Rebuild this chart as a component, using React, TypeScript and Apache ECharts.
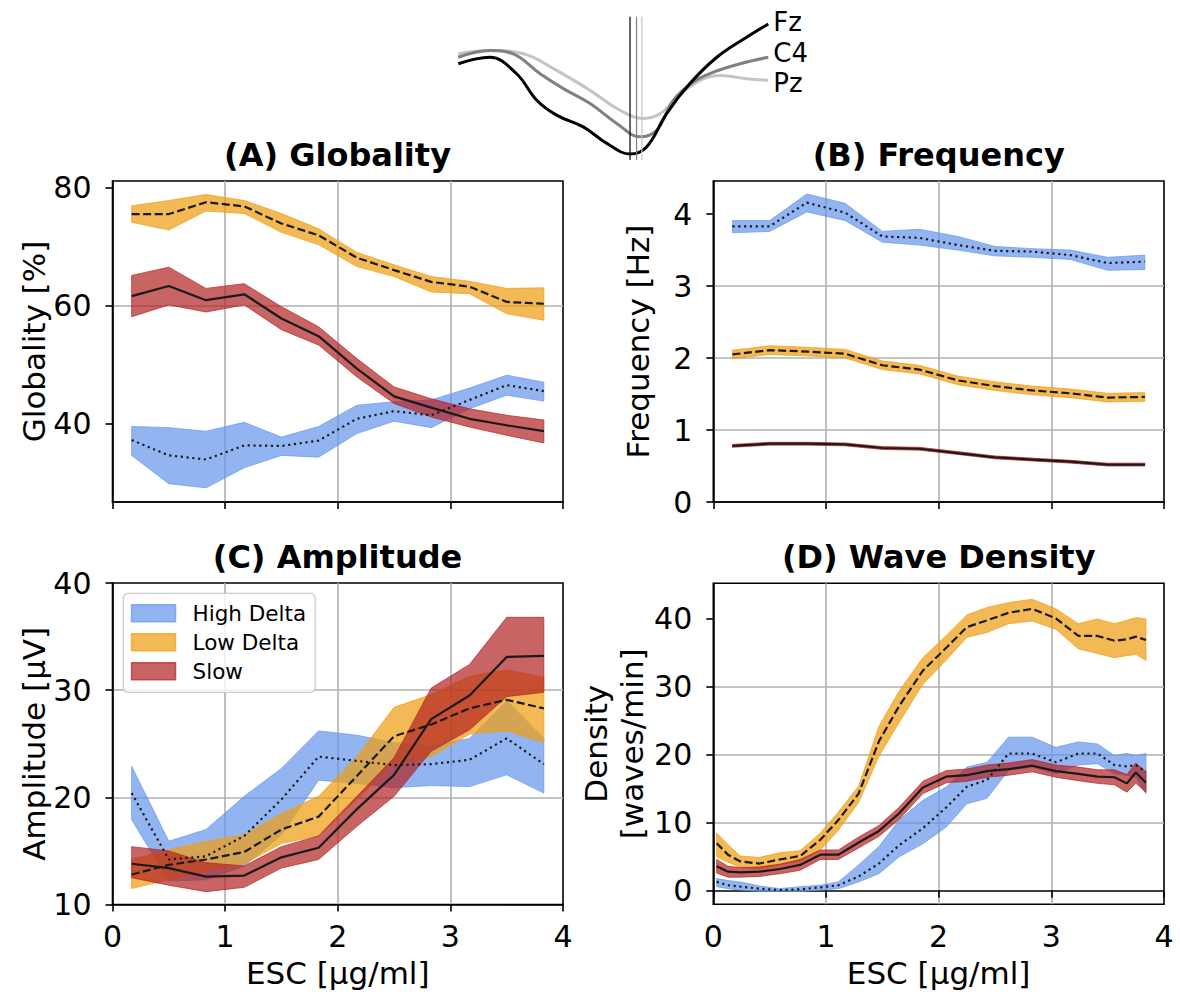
import React, { useEffect, useRef } from "react";
import * as echarts from "echarts";

// ---------- data ----------
const X_BINS = [0.17, 0.5, 0.83, 1.17, 1.5, 1.83, 2.17, 2.5, 2.83, 3.17, 3.5, 3.83];
const X_DENS = [0.03, 0.13, 0.24, 0.41, 0.59, 0.77, 0.95, 1.11, 1.29, 1.47, 1.65, 1.86, 2.07, 2.25, 2.43, 2.62, 2.83, 3.04, 3.24, 3.41, 3.56, 3.67, 3.75, 3.84];

// (A) Globality [%]
const glob_hd_mean = [37.2, 34.6, 33.9, 36.3, 36.2, 37.1, 40.8, 42.1, 41.4, 44.0, 46.5, 45.5];
const glob_hd_lo = [34.6, 29.8, 29.1, 32.5, 34.6, 34.3, 38.3, 40.4, 39.3, 42.5, 44.8, 43.8];
const glob_hd_hi = [39.5, 39.3, 38.7, 40.2, 37.7, 39.5, 43.1, 43.7, 44.0, 46.0, 48.2, 47.0];
const glob_ld_mean = [75.5, 75.5, 77.5, 76.8, 73.9, 71.9, 68.1, 66.0, 64.0, 63.2, 60.6, 60.3];
const glob_ld_lo = [74.1, 72.8, 76.0, 75.6, 72.4, 70.3, 66.6, 64.9, 62.3, 62.0, 58.6, 57.5];
const glob_ld_hi = [76.9, 77.8, 78.8, 77.8, 75.6, 73.0, 69.0, 66.9, 64.9, 64.1, 62.9, 63.0];
const glob_sl_mean = [61.6, 63.3, 60.9, 61.9, 57.8, 54.8, 49.3, 44.6, 42.7, 40.8, 39.7, 38.7];
const glob_sl_lo = [58.1, 60.1, 58.9, 60.1, 55.9, 53.3, 47.9, 43.4, 41.1, 39.4, 38.0, 36.7];
const glob_sl_hi = [65.1, 66.5, 62.9, 63.7, 59.8, 56.4, 51.0, 46.2, 44.2, 42.5, 41.4, 40.6];

// (B) Frequency [Hz]
const freq_hd_mean = [3.83, 3.83, 4.16, 4.02, 3.69, 3.67, 3.57, 3.49, 3.48, 3.43, 3.32, 3.34];
const freq_hd_lo = [3.74, 3.76, 4.03, 3.91, 3.61, 3.57, 3.5, 3.42, 3.4, 3.37, 3.22, 3.23];
const freq_hd_hi = [3.91, 3.91, 4.28, 4.15, 3.76, 3.79, 3.69, 3.55, 3.52, 3.5, 3.4, 3.43];
const freq_ld_mean = [2.05, 2.11, 2.09, 2.06, 1.9, 1.84, 1.69, 1.61, 1.55, 1.51, 1.45, 1.46];
const freq_ld_lo = [1.99, 2.05, 2.03, 2.0, 1.84, 1.78, 1.63, 1.55, 1.49, 1.45, 1.39, 1.4];
const freq_ld_hi = [2.11, 2.17, 2.15, 2.12, 1.96, 1.9, 1.75, 1.67, 1.61, 1.57, 1.51, 1.52];
const freq_sl_mean = [0.78, 0.81, 0.81, 0.8, 0.75, 0.74, 0.68, 0.62, 0.59, 0.56, 0.52, 0.52];
const freq_sl_lo = [0.76, 0.79, 0.79, 0.78, 0.73, 0.72, 0.66, 0.6, 0.57, 0.54, 0.5, 0.5];
const freq_sl_hi = [0.8, 0.83, 0.83, 0.82, 0.77, 0.76, 0.7, 0.64, 0.61, 0.58, 0.54, 0.54];

// (C) Amplitude [µV]
const amp_hd_mean = [20.4, 14.2, 14.5, 16.4, 19.8, 23.8, 23.4, 23.0, 23.1, 23.5, 25.5, 23.1];
const amp_hd_lo = [17.9, 12.2, 12.3, 13.6, 16.5, 21.6, 21.3, 20.9, 21.1, 21.0, 22.1, 20.4];
const amp_hd_hi = [22.9, 15.9, 17.0, 20.1, 22.7, 26.2, 25.8, 25.1, 24.8, 25.5, 29.0, 25.5];
const amp_ld_mean = [12.8, 13.7, 14.2, 14.9, 17.0, 18.2, 22.0, 25.7, 26.8, 28.3, 29.1, 28.3];
const amp_ld_lo = [11.5, 12.3, 13.1, 13.8, 15.7, 16.4, 19.8, 23.2, 23.8, 25.9, 26.2, 25.1];
const amp_ld_hi = [14.2, 15.1, 15.9, 16.5, 18.5, 20.1, 23.8, 28.4, 29.6, 31.3, 31.9, 31.2];
const amp_sl_mean = [13.8, 13.4, 12.6, 12.7, 14.4, 15.3, 18.9, 22.1, 27.3, 29.5, 33.1, 33.2];
const amp_sl_lo = [12.5, 11.8, 11.2, 11.6, 13.4, 14.2, 17.3, 20.1, 24.3, 26.3, 29.4, 29.8];
const amp_sl_hi = [15.4, 15.0, 13.9, 13.6, 15.4, 16.4, 20.1, 23.7, 30.2, 32.4, 36.8, 36.8];

// (D) Wave density [waves/min]
const dens_hd_mean = [1.3, 0.8, 0.6, 0.3, 0.1, 0.2, 0.5, 0.8, 2.1, 4.0, 6.7, 9.2, 12.3, 15.3, 16.3, 20.2, 20.2, 18.9, 20.2, 20.2, 18.5, 18.3, 18.5, 17.5];
const dens_hd_lo = [0.6, 0.3, 0.1, -0.1, -0.1, -0.1, 0.1, 0.3, 1.3, 2.5, 5.0, 6.9, 9.4, 12.8, 13.6, 17.7, 18.2, 17.2, 18.5, 18.7, 17.2, 17.0, 16.7, 14.3];
const dens_hd_hi = [1.8, 1.5, 1.3, 0.7, 0.3, 0.6, 0.8, 1.3, 3.8, 6.5, 10.4, 13.3, 15.3, 18.2, 18.9, 22.6, 22.6, 21.1, 21.9, 21.6, 19.9, 20.2, 19.9, 20.2];
const dens_ld_mean = [7.0, 5.3, 4.3, 4.0, 4.6, 5.1, 7.5, 10.4, 14.3, 22.0, 27.2, 32.4, 35.8, 38.8, 39.8, 40.9, 41.5, 40.1, 37.5, 37.5, 36.8, 37.0, 37.4, 36.9];
const dens_ld_lo = [5.0, 4.2, 3.4, 3.2, 3.8, 4.3, 6.0, 8.9, 13.0, 19.8, 24.8, 30.4, 34.0, 37.3, 38.0, 39.3, 39.7, 38.5, 35.6, 34.9, 34.3, 34.6, 34.8, 33.9];
const dens_ld_hi = [8.5, 6.8, 5.1, 4.9, 5.6, 5.9, 8.5, 11.6, 15.4, 24.2, 29.4, 34.3, 37.6, 40.6, 41.7, 42.4, 42.9, 41.5, 39.3, 40.0, 39.3, 39.8, 40.2, 40.0];
const dens_sl_mean = [3.6, 2.8, 2.7, 2.8, 3.2, 3.8, 5.3, 5.3, 7.1, 8.8, 11.4, 15.2, 16.8, 17.0, 17.6, 17.9, 18.4, 17.6, 17.2, 16.8, 16.7, 15.8, 17.4, 15.9];
const dens_sl_lo = [2.6, 2.0, 2.0, 2.1, 2.5, 3.0, 4.6, 4.6, 6.3, 8.0, 10.5, 14.3, 15.9, 16.1, 16.7, 17.0, 17.5, 16.7, 16.2, 15.8, 15.6, 14.5, 15.8, 14.5];
const dens_sl_hi = [4.6, 3.6, 3.4, 3.5, 3.9, 4.6, 6.0, 6.0, 7.9, 9.6, 12.3, 16.1, 17.7, 17.9, 18.5, 18.8, 19.3, 18.5, 18.2, 17.8, 17.8, 17.1, 18.8, 17.5];

// tick labels
const X_TICKS = [0, 1, 2, 3, 4];
const TICKS_A = [40, 60, 80];
const TICKS_B = [0, 1, 2, 3, 4];
const TICKS_C = [10, 20, 30, 40];
const TICKS_D = [0, 10, 20, 30, 40];

// inset: averaged waveforms (arbitrary units, time 0..100, amplitude 0..100)
const FZ_T = [0, 10.2, 18.8, 25.3, 31.7, 40.3, 47.9, 55.4, 60.8, 67.2, 74.7, 83.4, 93.0, 100];
const FZ_V = [67.2, 71.7, 60.2, 41.7, 31.3, 23.1, 11.6, 4.2, 9.3, 32.4, 53.3, 71.7, 85.6, 94.9];
const C4_T = [0, 10.2, 17.7, 26.4, 33.9, 42.5, 51.1, 58.6, 64.0, 69.4, 75.8, 82.3, 90.9, 100];
const C4_V = [71.7, 76.4, 74.1, 60.2, 49.8, 39.4, 25.5, 16.2, 20.8, 41.7, 54.4, 61.3, 67.2, 71.7];
const PZ_T = [0, 10.2, 21.0, 31.7, 42.5, 52.2, 59.8, 65.2, 71.7, 79.2, 84.6, 93.0, 100];
const PZ_V = [74.1, 76.4, 74.1, 62.5, 48.6, 34.7, 29.0, 32.4, 46.3, 56.7, 59.0, 56.7, 55.6];
const TROUGH_T = [55.4, 57.5, 59.2]; // Fz, C4, Pz trough markers

const GROUPS = ["High Delta", "Low Delta", "Slow"];
const FILL = ["rgba(100,149,237,0.7)", "rgba(238,158,20,0.72)", "rgba(178,34,34,0.7)"];
const DASH: any[] = [[2.2, 3.6], [8, 3.5], "solid"];

const FONT = "DejaVu Sans";
const TICK_FS = 30;
const NAME_FS = 31;

function band(name: string, g: number, xs: number[], lo: number[], hi: number[], color: string) {
  return {
    type: "custom",
    name,
    xAxisIndex: g,
    yAxisIndex: g,
    silent: true,
    itemStyle: { color },
    data: xs.map((x, i) => [x, lo[i], hi[i]]),
    encode: { x: 0, y: [1, 2] },
    renderItem: (params: any, api: any) => {
      if (params.dataIndex !== 0) return null;
      const top = xs.map((x, i) => api.coord([x, hi[i]]));
      const bot = xs.map((x, i) => api.coord([x, lo[i]])).reverse();
      return {
        type: "polygon",
        shape: { points: top.concat(bot) },
        style: { fill: color, stroke: color, lineWidth: 1 },
      };
    },
  };
}

function meanLine(g: number, xs: number[], ys: number[], k: number) {
  return {
    type: "line",
    xAxisIndex: g,
    yAxisIndex: g,
    silent: true,
    symbol: "none",
    data: xs.map((x, i) => [x, ys[i]]),
    lineStyle: { color: "#1a1a1a", width: 2.2, type: DASH[k] },
  };
}

function panelSeries(g: number, xs: number[], sets: number[][][]) {
  const out: any[] = [];
  sets.forEach((s, k) => {
    out.push(band(GROUPS[k], g, xs, s[1], s[2], FILL[k]));
    out.push(meanLine(g, xs, s[0], k));
  });
  return out;
}

function xAxis(g: number, showLabels: boolean) {
  return {
    type: "value",
    gridIndex: g,
    min: 0,
    max: 4,
    interval: 1,
    axisLine: { show: true, lineStyle: { color: "#000", width: 1.6 } },
    axisTick: { show: true, inside: false, length: 7, customValues: X_TICKS, lineStyle: { color: "#000", width: 1.6 } },
    axisLabel: { show: showLabels, customValues: X_TICKS, fontFamily: FONT, fontSize: TICK_FS, color: "#000", margin: 17 },
    splitLine: { show: true, showMinLine: false, showMaxLine: false, lineStyle: { color: "#b0b0b0", width: 1.6 } },
    name: showLabels ? "ESC [µg/ml]" : "",
    nameLocation: "middle",
    nameGap: 53,
    nameTextStyle: { fontFamily: FONT, fontSize: NAME_FS, color: "#000" },
  };
}

function yAxis(g: number, min: number, max: number, split: number, ticks: number[], name: string, gap: number, extra: any = {}) {
  return {
    type: "value",
    gridIndex: g,
    min,
    max,
    splitNumber: split,
    axisLine: { show: true, lineStyle: { color: "#000", width: 1.6 } },
    axisTick: { show: true, inside: false, length: 7, customValues: ticks, lineStyle: { color: "#000", width: 1.6 } },
    axisLabel: { customValues: ticks, fontFamily: FONT, fontSize: TICK_FS, color: "#000", margin: 21 },
    splitLine: { show: true, showMinLine: false, showMaxLine: false, lineStyle: { color: "#b0b0b0", width: 1.6 } },
    name,
    nameLocation: "middle",
    nameGap: gap,
    nameTextStyle: { fontFamily: FONT, fontSize: NAME_FS, color: "#000", ...extra },
  };
}

function inLine(ts: number[], vs: number[], color: string, label: string, dy: number) {
  return {
    type: "line",
    xAxisIndex: 4,
    yAxisIndex: 4,
    silent: true,
    symbol: "none",
    smooth: 0.4,
    data: ts.map((t, i) => [t, vs[i]]),
    lineStyle: { color, width: 3 },
    endLabel: { show: true, formatter: label, fontFamily: FONT, fontSize: 26, lineHeight: 26, color: "#000", distance: 5, offset: [0, dy] },
  };
}

function trough(t: number, color: string) {
  return {
    type: "line",
    xAxisIndex: 4,
    yAxisIndex: 4,
    silent: true,
    symbol: "none",
    data: [[t, 0], [t, 100]],
    lineStyle: { color, width: 1.2 },
  };
}

const TITLE_STYLE = { fontFamily: FONT, fontSize: 32, fontWeight: "bold", color: "#000" };
const border = { show: true, borderColor: "#000", borderWidth: 1.6, backgroundColor: "transparent" };

export default function App() {
  const ref = useRef<HTMLDivElement>(null);
  useEffect(() => {
    document.body.style.margin = "0";
    const chart = echarts.init(ref.current!, null, { renderer: "svg" });
    const option: any = {
      animation: false,
      backgroundColor: "#fff",
      title: [
        { text: "(A) Globality", left: 337.5, top: 139, textAlign: "center", padding: 0, textStyle: TITLE_STYLE },
        { text: "(B) Frequency", left: 938.7, top: 139, textAlign: "center", padding: 0, textStyle: TITLE_STYLE },
        { text: "(C) Amplitude", left: 337.5, top: 541, textAlign: "center", padding: 0, textStyle: TITLE_STYLE },
        { text: "(D) Wave Density", left: 938.7, top: 541, textAlign: "center", padding: 0, textStyle: TITLE_STYLE },
      ],
      legend: {
        orient: "vertical",
        left: 123.3,
        top: 593.3,
        padding: [9, 9, 10, 7.5],
        itemWidth: 44,
        itemHeight: 17,
        itemGap: 7,
        icon: "rect",
        selectedMode: false,
        backgroundColor: "rgba(255,255,255,0.8)",
        borderColor: "#cccccc",
        borderWidth: 1.3,
        borderRadius: 5,
        textStyle: { fontFamily: FONT, fontSize: 21.5, color: "#000", lineHeight: 17, padding: [0, 0, 0, 12] },
        data: GROUPS.map((n, k) => ({ name: n, itemStyle: { color: FILL[k], borderColor: FILL[k], borderWidth: 1.5 } })),
      },
      grid: [
        { left: 112.5, top: 181, width: 450.5, height: 321, ...border },
        { left: 713.3, top: 181, width: 450.7, height: 321, ...border },
        { left: 112.5, top: 583, width: 450.5, height: 321.5, ...border },
        { left: 713.3, top: 583.3, width: 450.7, height: 321, ...border },
        { left: 458.3, top: 16.7, width: 310, height: 143.3, show: false },
      ],
      xAxis: [
        xAxis(0, false),
        xAxis(1, false),
        xAxis(2, true),
        xAxis(3, true),
        { type: "value", gridIndex: 4, min: 0, max: 100, show: false },
      ],
      yAxis: [
        yAxis(0, 26.7, 81.1, 3, TICKS_A, "Globality [%]", 60),
        yAxis(1, 0, 4.46, 5, TICKS_B, "Frequency [Hz]", 60),
        yAxis(2, 10, 40, 3, TICKS_C, "Amplitude [µV]", 60),
        yAxis(3, -2, 45.25, 5, TICKS_D, "Density\n[waves/min]", 58, { lineHeight: 36 }),
        { type: "value", gridIndex: 4, min: 0, max: 100, show: false },
      ],
      series: [
        ...panelSeries(0, X_BINS, [
          [glob_hd_mean, glob_hd_lo, glob_hd_hi],
          [glob_ld_mean, glob_ld_lo, glob_ld_hi],
          [glob_sl_mean, glob_sl_lo, glob_sl_hi],
        ]),
        ...panelSeries(1, X_BINS, [
          [freq_hd_mean, freq_hd_lo, freq_hd_hi],
          [freq_ld_mean, freq_ld_lo, freq_ld_hi],
          [freq_sl_mean, freq_sl_lo, freq_sl_hi],
        ]),
        ...panelSeries(2, X_BINS, [
          [amp_hd_mean, amp_hd_lo, amp_hd_hi],
          [amp_ld_mean, amp_ld_lo, amp_ld_hi],
          [amp_sl_mean, amp_sl_lo, amp_sl_hi],
        ]),
        ...panelSeries(3, X_DENS, [
          [dens_hd_mean, dens_hd_lo, dens_hd_hi],
          [dens_ld_mean, dens_ld_lo, dens_ld_hi],
          [dens_sl_mean, dens_sl_lo, dens_sl_hi],
        ]),
        inLine(PZ_T, PZ_V, "#c4c4c4", "Pz", 3),
        inLine(C4_T, C4_V, "#808080", "C4", -4),
        inLine(FZ_T, FZ_V, "#000000", "Fz", -2),
        trough(TROUGH_T[0], "#000000"),
        trough(TROUGH_T[1], "#808080"),
        trough(TROUGH_T[2], "#c4c4c4"),
      ],
    };
    chart.setOption(option);
    return () => chart.dispose();
  }, []);
  return <div ref={ref} style={{ width: 1180, height: 992 }} />;
}
